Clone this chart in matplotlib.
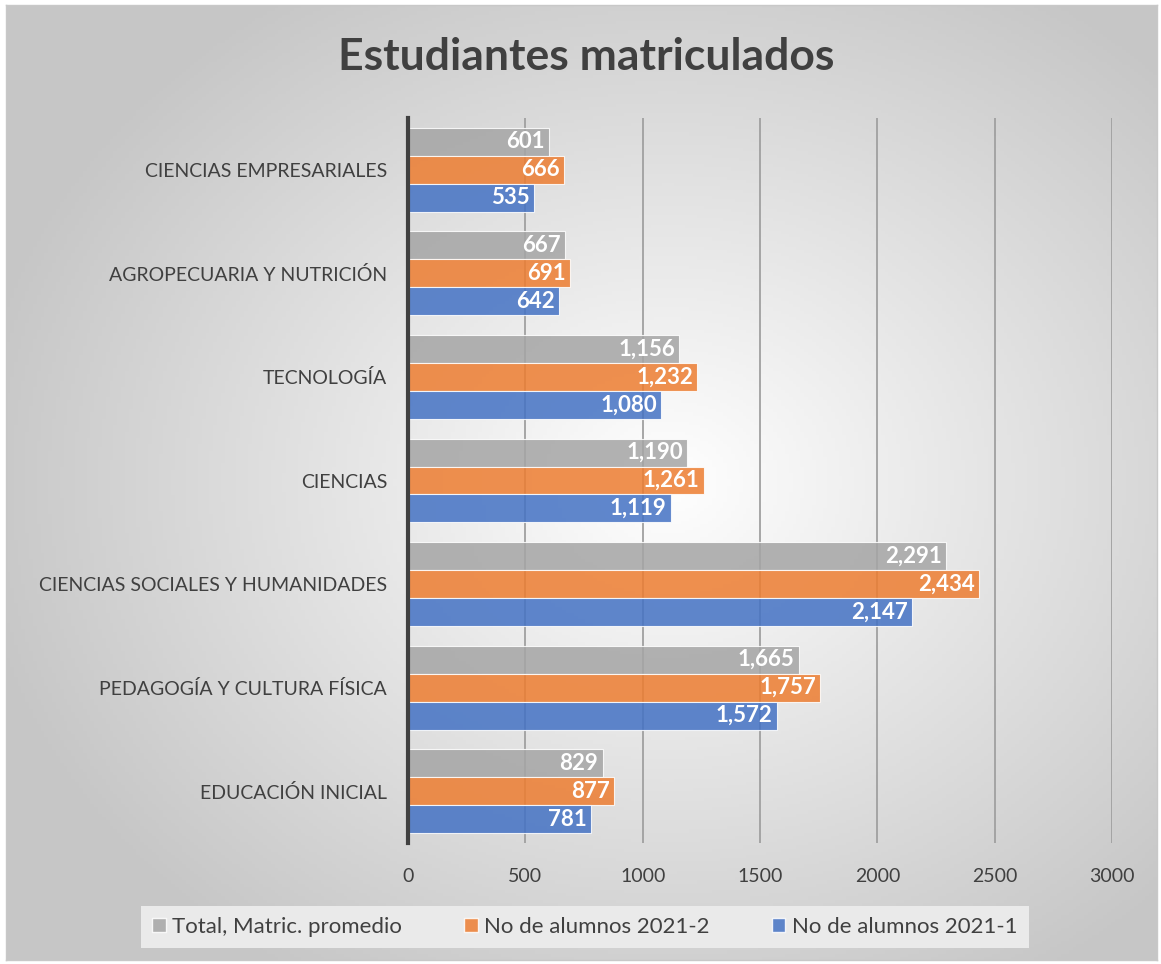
import matplotlib
matplotlib.use("Agg")
import matplotlib.pyplot as plt
import numpy as np
from matplotlib.patches import Patch

plt.rcParams['font.family'] = ['Lato', 'DejaVu Sans']

# data
categories = ["EDUCACIÓN INICIAL", "PEDAGOGÍA Y CULTURA FÍSICA",
              "CIENCIAS SOCIALES Y HUMANIDADES", "CIENCIAS", "TECNOLOGÍA",
              "AGROPECUARIA Y NUTRICIÓN", "CIENCIAS EMPRESARIALES"]
total_promedio = [829, 1665, 2291, 1190, 1156, 667, 601]
alumnos_2021_2 = [877, 1757, 2434, 1261, 1232, 691, 666]
alumnos_2021_1 = [781, 1572, 2147, 1119, 1080, 642, 535]
series_names = ["Total, Matric. promedio", "No de alumnos 2021-2", "No de alumnos 2021-1"]
colors = ["#a5a5a5", "#ed7d31", "#4472c4"]

fig = plt.figure(figsize=(11.61, 9.64), dpi=100)
fig.patch.set_facecolor("white")

# radial gradient background with thin border
bg = fig.add_axes([6/1161, 4/964, 1151/1161, 955/964], zorder=-5)
yy, xx = np.mgrid[-1:1:300j, -1:1:300j]
r = np.sqrt(((xx - 0.15) / 1.1) ** 2 + ((yy - 0.0) / 1.1) ** 2)
shade = np.clip(1.0 - 0.2 * r, 0.78, 1.0)
bg.imshow(np.dstack([shade] * 3), aspect="auto", extent=[0, 1, 0, 1])
bg.set_xticks([]); bg.set_yticks([])
for s in bg.spines.values():
    s.set_color("#c8c8c8")
    s.set_linewidth(1)

ax = fig.add_axes([408/1161, 1 - 843/964, 704/1161, 725/964])
ax.patch.set_alpha(0)

y = np.arange(len(categories))
h = 0.27
txt = "#404040"
for vals, off, col in zip([total_promedio, alumnos_2021_2, alumnos_2021_1],
                          [h, 0, -h], colors):
    bars = ax.barh(y + off, vals, height=h, color=col, alpha=0.85,
                   edgecolor="white", linewidth=0.8, zorder=3)
    for b, v in zip(bars, vals):
        ax.text(v - 18, b.get_y() + h / 2, f"{v:,}", ha="right", va="center",
                color="white", fontsize=16, fontweight="bold", zorder=4)

ax.set_xlim(0, 3000)
ax.set_ylim(-0.5, 6.5)
ax.set_xticks(np.arange(0, 3001, 500))
ax.set_yticks(y)
ax.set_yticklabels(categories, fontsize=14.7)
ax.tick_params(axis="both", length=0, labelsize=14, colors=txt)
ax.tick_params(axis="x", pad=18)
ax.tick_params(axis="y", pad=15)
ax.xaxis.grid(True, color="#a0a0a0", linewidth=1.3, zorder=0)
ax.set_axisbelow(True)
for s in ["top", "right", "bottom"]:
    ax.spines[s].set_visible(False)
ax.spines["left"].set_color("#404040")
ax.spines["left"].set_linewidth(3)
ax.spines["left"].set_zorder(5)

fig.text(586/1161, 1 - 57/964, "Estudiantes matriculados", ha="center", va="center",
         fontsize=32, fontweight="bold", color=txt)

handles = [Patch(facecolor=c, edgecolor="white", alpha=0.85) for c in colors]
leg = fig.legend(handles, series_names, loc="center", ncol=3,
                 bbox_to_anchor=(585/1161, 1 - 927/964), fontsize=16,
                 frameon=True, fancybox=False, handlelength=0.6, handleheight=0.6,
                 handletextpad=0.3, columnspacing=2.8, borderpad=0.5)
leg.get_frame().set_facecolor("#eaeaea")
leg.get_frame().set_edgecolor("none")
leg.get_frame().set_alpha(1)
for t in leg.get_texts():
    t.set_color(txt)

fig.savefig("out.png", dpi=100)
